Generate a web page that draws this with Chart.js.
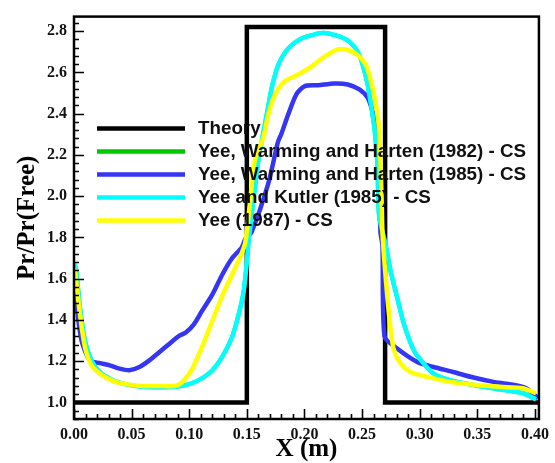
<!DOCTYPE html>
<html>
<head>
<meta charset="utf-8">
<title>Pr/Pr(Free)</title>
<script src="https://cdn.jsdelivr.net/npm/chart.js@4.4.0/dist/chart.umd.min.js"></script>
<style>
    html, body { margin: 0; padding: 0; background: #fff; }
    #chart { display: block; }
</style>
</head>
<body>
<canvas id="chart" width="555" height="463"></canvas>
<script>
// Axis ticks (major) and range
const xTicks = [0, 0.05, 0.10, 0.15, 0.20, 0.25, 0.30, 0.35, 0.40];
const yTicks = [1.0, 1.2, 1.4, 1.6, 1.8, 2.0, 2.2, 2.4, 2.6, 2.8];
const xRange = [0, 0.4035];
const yRange = [0.92, 2.871];

// Theory: square pulse
const theoryX = [0, 0.15, 0.15, 0.27, 0.27, 0.4035];
const theoryY = [1.0, 1.0, 2.82, 2.82, 1.0, 1.0];

// Yee, Warming and Harten (1985) - CS
const ywh85X = [0, 0.0023, 0.0066, 0.0138, 0.0224, 0.031, 0.0396, 0.048, 0.0568, 0.0654, 0.074, 0.0826, 0.0912, 0.097,
    0.104, 0.111, 0.12, 0.1285, 0.137, 0.1457, 0.1487, 0.154, 0.1687, 0.177, 0.18, 0.186, 0.193, 0.2003, 0.2118, 0.226,
    0.2376, 0.2477, 0.2548, 0.259, 0.262, 0.2634, 0.266, 0.2677, 0.2695, 0.279, 0.298, 0.312, 0.329, 0.3467, 0.364,
    0.378, 0.3925, 0.4026];
const ywh85Y = [1.667, 1.475, 1.30, 1.204, 1.191, 1.18, 1.164, 1.156, 1.172, 1.204, 1.244, 1.284, 1.323, 1.339,
    1.379, 1.443, 1.523, 1.618, 1.698, 1.753, 1.793, 1.825, 2.064, 2.263, 2.303, 2.398, 2.494, 2.534, 2.538, 2.547,
    2.542, 2.518, 2.478, 2.414, 2.351, 2.271, 1.825, 1.762, 1.32, 1.268, 1.196, 1.172, 1.148, 1.121, 1.10,
    1.089, 1.069, 1.021];

// Yee and Kutler (1985) - CS
const ykX = [0, 0.0017, 0.0052, 0.0095, 0.0152, 0.0224, 0.0338, 0.0453, 0.0597, 0.074, 0.0884, 0.0999, 0.111, 0.12,
    0.1285, 0.137, 0.1429, 0.1472, 0.15, 0.1515, 0.1558, 0.160, 0.163, 0.1673, 0.1716, 0.1773, 0.186, 0.1974, 0.209,
    0.2175, 0.229, 0.239, 0.2462, 0.2505, 0.2548, 0.2577, 0.2606, 0.262, 0.2634, 0.2648, 0.2706, 0.2749, 0.2806,
    0.2864, 0.295, 0.3036, 0.3122, 0.3265, 0.3467, 0.3695, 0.3897, 0.401];
const ykY = [1.67, 1.65, 1.459, 1.30, 1.204, 1.148, 1.108, 1.088, 1.076, 1.074, 1.076, 1.089, 1.117, 1.156,
    1.22, 1.315, 1.427, 1.538, 1.682, 1.777, 1.984, 2.175, 2.271, 2.398, 2.526, 2.637, 2.717, 2.765, 2.785,
    2.792, 2.777, 2.749, 2.701, 2.637, 2.542, 2.446, 2.335, 2.255, 2.144, 1.905, 1.762, 1.634, 1.506,
    1.379, 1.252, 1.188, 1.14, 1.108, 1.085, 1.064, 1.045, 1.016];

// Yee, Warming and Harten (1982) - CS (lies under Yee and Kutler)
const ywh82X = ykX.slice();
const ywh82Y = ykY.slice();

// Yee (1987) - CS
const y87X = [0, 0.0009, 0.0052, 0.0095, 0.0152, 0.0224, 0.0338, 0.0453, 0.0597, 0.074, 0.0884, 0.0955, 0.1027,
    0.111, 0.12, 0.1285, 0.137, 0.1443, 0.1487, 0.153, 0.157, 0.1644, 0.1687, 0.1745, 0.183, 0.1945, 0.206, 0.2175,
    0.229, 0.2376, 0.2462, 0.2533, 0.2577, 0.262, 0.2648, 0.267, 0.2677, 0.2692, 0.272, 0.2749, 0.2778, 0.2835,
    0.292, 0.3065, 0.3265, 0.3495, 0.3695, 0.3897, 0.401];
const y87Y = [1.65, 1.634, 1.427, 1.268, 1.18, 1.14, 1.105, 1.089, 1.08, 1.08, 1.081, 1.108, 1.164,
    1.268, 1.395, 1.515, 1.618, 1.706, 1.777, 1.984, 2.175, 2.287, 2.398, 2.494, 2.558, 2.59, 2.629, 2.677,
    2.712, 2.709, 2.685, 2.637, 2.558, 2.446, 2.319, 1.984, 1.825, 1.698, 1.506, 1.347, 1.252, 1.188,
    1.148, 1.124, 1.10, 1.085, 1.076, 1.069, 1.045];

const SERIF = '"Liberation Serif", "Times New Roman", serif';
const SANS = '"Liberation Sans", Arial, sans-serif';

function toPoints(xs, ys) {
    return xs.map((x, i) => ({ x, y: ys[i] }));
}

// Box around the plot with inward ticks on the left and bottom axes
const frameTicksPlugin = {
    id: 'frameTicks',
    afterDatasetsDraw(chart, args, opts) {
        const { ctx, chartArea: a, scales: { x, y } } = chart;
        ctx.save();
        ctx.strokeStyle = '#000';
        ctx.lineWidth = 1.6;
        ctx.beginPath();
        for (let v = 0; v <= xRange[1] + 1e-9; v += 0.01) {
            const px = Math.round(x.getPixelForValue(v)) + 0.5;
            const major = Math.abs(v / 0.05 - Math.round(v / 0.05)) < 1e-6;
            ctx.moveTo(px, a.bottom);
            ctx.lineTo(px, a.bottom - (major ? opts.major : opts.minor));
        }
        for (let v = yRange[0]; v <= yRange[1] + 1e-9; v += 0.04) {
            const py = Math.round(y.getPixelForValue(v)) + 0.5;
            const major = Math.abs(v / 0.2 - Math.round(v / 0.2)) < 1e-6;
            ctx.moveTo(a.left, py);
            ctx.lineTo(a.left + (major ? opts.major : opts.minor), py);
        }
        ctx.stroke();
        ctx.lineWidth = 2.5;
        ctx.strokeRect(a.left, a.top, a.right - a.left, a.bottom - a.top);
        ctx.restore();
    }
};

// Legend written inside the plot, over the curves
const insideLegendPlugin = {
    id: 'insideLegend',
    afterDatasetsDraw(chart, args, opts) {
        const { ctx } = chart;
        ctx.save();
        ctx.font = `bold ${opts.fontSize}px ${SANS}`;
        ctx.textBaseline = 'middle';
        ctx.textAlign = 'left';
        opts.items.forEach((idx, row) => {
            const ds = chart.data.datasets[idx];
            const yy = opts.top + row * opts.rowGap;
            ctx.strokeStyle = ds.borderColor;
            ctx.lineWidth = 4.5;
            ctx.lineCap = 'butt';
            ctx.beginPath();
            ctx.moveTo(opts.lineX0, yy);
            ctx.lineTo(opts.lineX1, yy);
            ctx.stroke();
            ctx.fillStyle = '#111';
            ctx.fillText(ds.label, opts.textX, yy);
        });
        ctx.restore();
    }
};

function buildChart() {
    const canvas = document.getElementById('chart');
    const lineDefaults = { pointRadius: 0, fill: false, borderJoinStyle: 'round', tension: 0.25 };
    return new Chart(canvas.getContext('2d'), {
        type: 'line',
        data: {
            datasets: [
                { label: 'Theory', data: toPoints(theoryX, theoryY), borderColor: '#000', borderWidth: 4.5,
                  pointRadius: 0, tension: 0, borderJoinStyle: 'miter', order: 5 },
                { label: 'Yee, Warming and Harten (1982) - CS', data: toPoints(ywh82X, ywh82Y), borderColor: '#00c800',
                  borderWidth: 4, order: 4, ...lineDefaults },
                { label: 'Yee, Warming and Harten (1985) - CS', data: toPoints(ywh85X, ywh85Y), borderColor: '#3535f5',
                  borderWidth: 4.5, order: 3, ...lineDefaults },
                { label: 'Yee and Kutler (1985) - CS', data: toPoints(ykX, ykY), borderColor: '#00ffff',
                  borderWidth: 4.5, order: 2, ...lineDefaults },
                { label: 'Yee (1987) - CS', data: toPoints(y87X, y87Y), borderColor: '#ffff00',
                  borderWidth: 4.5, order: 1, ...lineDefaults }
            ]
        },
        options: {
            responsive: false, animation: false, devicePixelRatio: 1,
            layout: { padding: { top: 11, right: 12, left: 0, bottom: 0 } },
            scales: {
                x: {
                    type: 'linear', min: xRange[0], max: xRange[1],
                    afterFit: (s) => { s.height = 44; },
                    afterBuildTicks: (s) => { s.ticks = xTicks.map(v => ({ value: v })); },
                    grid: { display: false, drawTicks: false }, border: { display: false },
                    ticks: { padding: 6, color: '#111', maxRotation: 0, autoSkip: false,
                             font: { family: SERIF, size: 16, weight: 'bold' }, callback: (v) => v.toFixed(2) },
                    title: { display: true, text: 'X (m)', color: '#000', padding: { top: 0, bottom: 1 },
                             font: { family: SERIF, size: 25, weight: 'bold', lineHeight: 1 } }
                },
                y: {
                    type: 'linear', min: yRange[0], max: yRange[1],
                    afterFit: (s) => { s.width = 74; },
                    afterBuildTicks: (s) => { s.ticks = yTicks.map(v => ({ value: v })); },
                    grid: { display: false, drawTicks: false }, border: { display: false },
                    ticks: { padding: 7, color: '#111', autoSkip: false,
                             font: { family: SERIF, size: 16, weight: 'bold' }, callback: (v) => v.toFixed(1) },
                    title: { display: true, text: 'Pr/Pr(Free)', color: '#000', padding: { top: 15, bottom: 0 },
                             font: { family: SERIF, size: 25, weight: 'bold', lineHeight: 1 } }
                }
            },
            plugins: {
                legend: { display: false }, tooltip: { enabled: false },
                frameTicks: { major: 10, minor: 5 },
                insideLegend: { items: [0, 1, 2, 3, 4], top: 128.5, rowGap: 23, lineX0: 97, lineX1: 185,
                                textX: 198, fontSize: 18.8 }
            }
        },
        plugins: [frameTicksPlugin, insideLegendPlugin]
    });
}

buildChart();
</script>
</body>
</html>
